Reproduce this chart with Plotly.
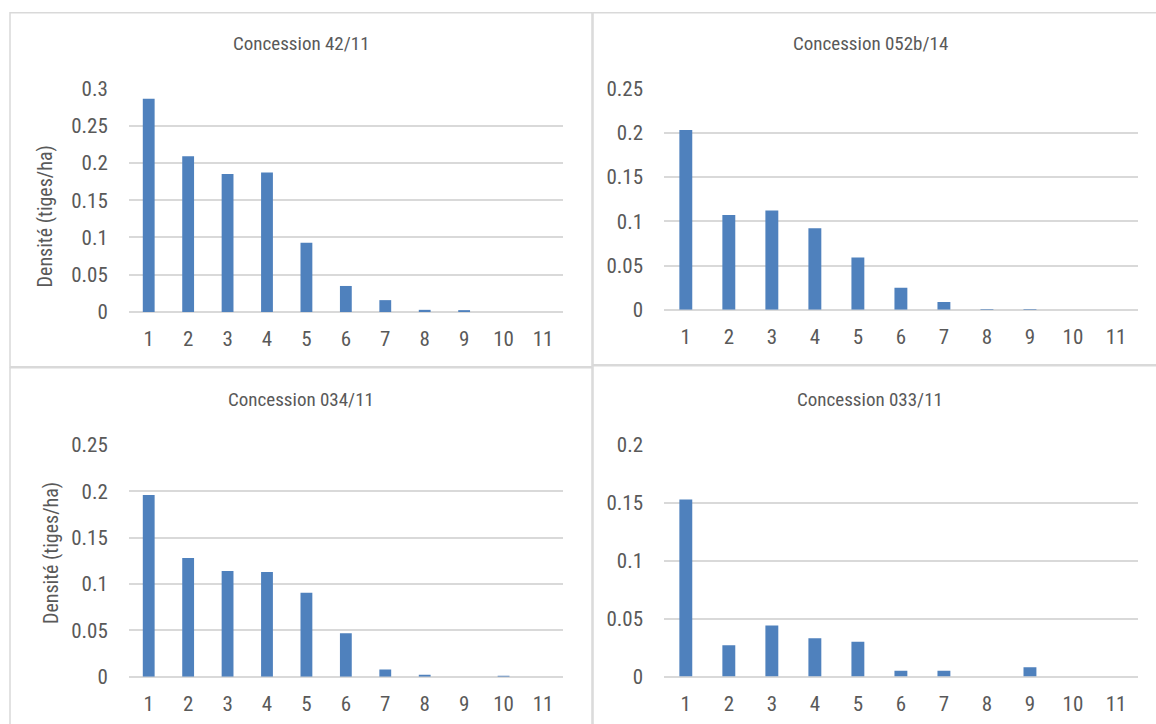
import plotly.graph_objects as go

# ---- data ----
categories = ["1", "2", "3", "4", "5", "6", "7", "8", "9", "10", "11"]

panel_titles = ["Concession 42/11", "Concession 052b/14", "Concession 034/11", "Concession 033/11"]

dens_42_11 = [0.286, 0.209, 0.185, 0.187, 0.093, 0.035, 0.016, 0.003, 0.0015, 0, 0]
dens_052b_14 = [0.203, 0.107, 0.112, 0.092, 0.059, 0.025, 0.009, 0.0004, 0.0003, 0, 0]
dens_034_11 = [0.196, 0.128, 0.114, 0.113, 0.0905, 0.047, 0.0078, 0.0014, 0, 0.0008, 0]
dens_033_11 = [0.153, 0.027, 0.044, 0.033, 0.030, 0.005, 0.005, 0, 0.008, 0, 0]

yticks_030 = [0, 0.05, 0.1, 0.15, 0.2, 0.25, 0.3]
ylabels_030 = ["0", "0.05", "0.1", "0.15", "0.2", "0.25", "0.3"]
yticks_025 = [0, 0.05, 0.1, 0.15, 0.2, 0.25]
ylabels_025 = ["0", "0.05", "0.1", "0.15", "0.2", "0.25"]
yticks_020 = [0, 0.05, 0.1, 0.15, 0.2]
ylabels_020 = ["0", "0.05", "0.1", "0.15", "0.2"]

y_title = "Densité (tiges/ha)"

# ---- styles ----
W, H = 1156, 724
FONT = "Liberation Sans Narrow, Arial Narrow, Roboto Condensed, DejaVu Sans Condensed, sans-serif"
TXT = "#595959"
GRID = "#D9D9D9"
BAR = "#4F81BD"


def py(v):
    """target pixel row -> paper y (with empirical vertical correction)"""
    f = (v - 12.0) / 0.965
    return 1 - f / H


series = [dens_42_11, dens_052b_14, dens_034_11, dens_033_11]
ticks = [(yticks_030, ylabels_030), (yticks_025, ylabels_025),
         (yticks_025, ylabels_025), (yticks_020, ylabels_020)]

# pixel geometry of plot areas: (x0, x1, ybottom, ytop)
geo = [(129, 562.7, 311.5, 88), (664.3, 1137.5, 309.3, 88),
       (129, 562.7, 675.5, 444), (664.3, 1137.5, 675.3, 444)]

fig = go.Figure()
layout = dict(width=W, height=H, margin=dict(l=0, r=0, t=0, b=0),
              paper_bgcolor="white", plot_bgcolor="white", showlegend=False,
              bargap=0.7, font=dict(family=FONT, color=TXT, size=20))

for i, (vals, (tv, tt), g) in enumerate(zip(series, ticks, geo)):
    n = "" if i == 0 else str(i + 1)
    fig.add_trace(go.Bar(x=categories, y=vals, marker=dict(color=BAR, line=dict(width=0)),
                         xaxis="x" + n, yaxis="y" + n))
    x0, x1, yb, yt = g
    layout["xaxis" + n] = dict(domain=[x0 / W, x1 / W], anchor="y" + n, type="category",
                               showgrid=False, zeroline=False, showline=False,
                               ticks="outside", ticklen=8, tickcolor="rgba(0,0,0,0)",
                               tickfont=dict(size=21, color=TXT, family=FONT))
    layout["yaxis" + n] = dict(domain=[py(yb), py(yt)], anchor="x" + n,
                               range=[0, tv[-1] * 1.0005], tickvals=tv, ticktext=tt,
                               showgrid=True, gridcolor=GRID, gridwidth=1.5,
                               zeroline=True, zerolinecolor=GRID, zerolinewidth=1.5,
                               showline=False, ticks="outside", ticklen=16,
                               tickcolor="rgba(0,0,0,0)",
                               tickfont=dict(size=21, color=TXT, family=FONT))

fig.update_layout(**layout)

# panel titles
title_pos = [(301, 43), (870, 43), (301, 399), (870, 399)]
for t, (px, pyy) in zip(panel_titles, title_pos):
    fig.add_annotation(text=t, x=px / W, y=py(pyy), xref="paper", yref="paper",
                       showarrow=False, xanchor="center", yanchor="middle",
                       font=dict(size=19, color=TXT, family=FONT))

# y-axis titles (left panels)
for px, pyy in [(45, 216), (51, 552)]:
    fig.add_annotation(text=y_title, x=px / W, y=py(pyy), xref="paper", yref="paper",
                       showarrow=False, textangle=-90, xanchor="center", yanchor="middle",
                       font=dict(size=20, color=TXT, family=FONT))

# panel borders
for (bx0, by0, bx1, by1) in [(10, 12.8, 592, 366), (593, 12.8, 1170, 364),
                             (10, 367, 592, 760), (593, 365, 1170, 760)]:
    fig.add_shape(type="rect", xref="paper", yref="paper",
                  x0=bx0 / W, x1=bx1 / W, y0=py(by1), y1=py(by0),
                  line=dict(color=GRID, width=1.5), layer="below")

fig.write_html(
    "out.html",
    config={"displayModeBar": False},
    post_script=(
        "document.body.style.margin='0';"
        "document.body.style.overflow='hidden';"
        "var d=document.getElementById('{plot_id}');"
        "d.style.position='fixed';d.style.top='0';d.style.left='0';"
    ),
)
